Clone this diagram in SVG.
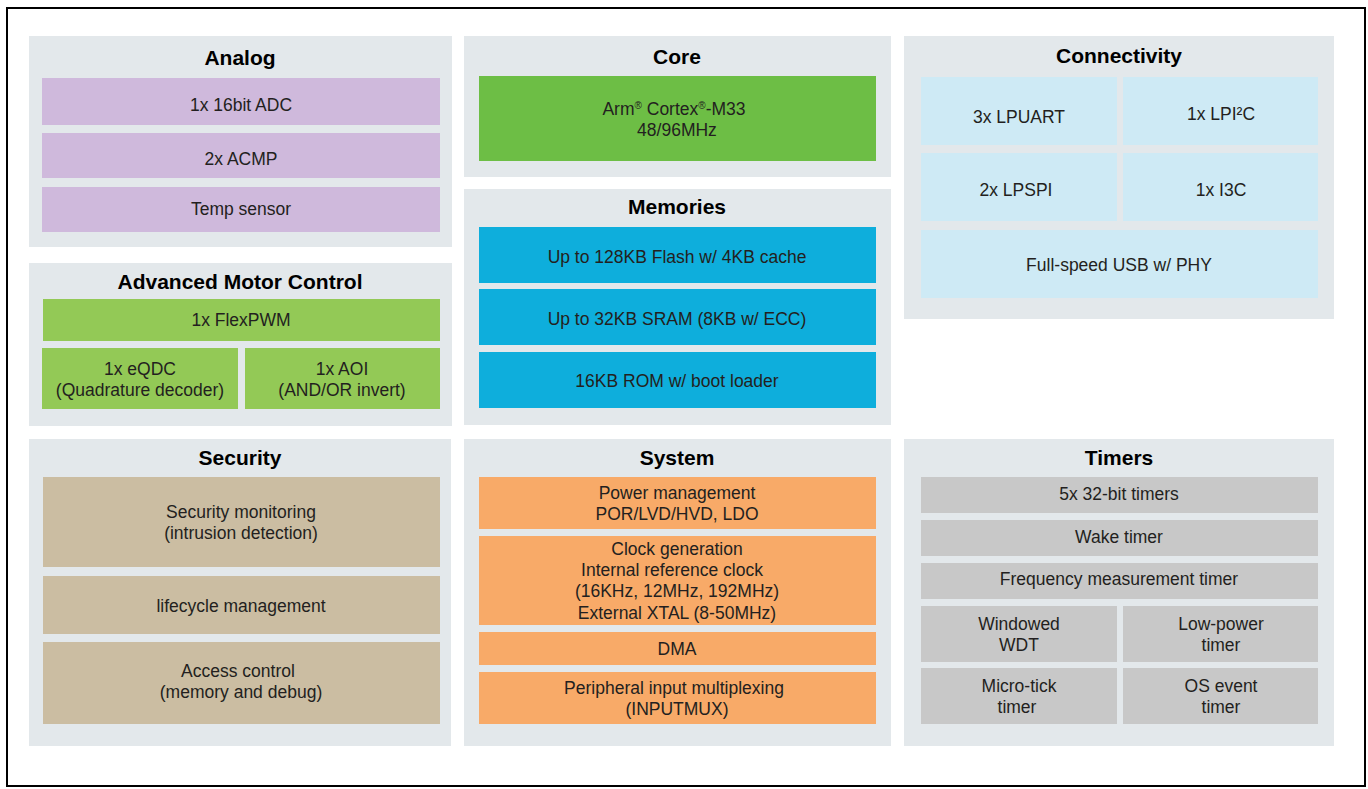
<svg xmlns="http://www.w3.org/2000/svg" width="1368" height="789" viewBox="0 0 1368 789">
<style>
.panel{fill:#e3e8eb}
.t{font-family:"Liberation Sans",Arial,sans-serif;font-size:21px;font-weight:bold;fill:#000;text-anchor:middle}
.l{font-family:"Liberation Sans",Arial,sans-serif;font-size:17.5px;fill:#231f20;text-anchor:middle}
.pu{fill:#cfb9dc}
.gc{fill:#6dbe45}
.gm{fill:#93c956}
.bl{fill:#0eaedc}
.lb{fill:#ceeaf5}
.tn{fill:#cbbda2}
.or{fill:#f8aa68}
.gr{fill:#c8c8c8}
.sup{font-size:10px}
</style>
<rect x="0" y="0" width="1368" height="789" fill="#fff"/>
<rect x="7" y="8" width="1358" height="778" fill="#fff" stroke="#000" stroke-width="2"/>

<g id="analog">
<rect class="panel" x="29" y="36" width="423" height="211"/>
<text class="t" x="240" y="65">Analog</text>
<rect class="pu" x="42" y="78" width="398" height="47"/>
<text class="l" x="241" y="111">1x 16bit ADC</text>
<rect class="pu" x="42" y="133" width="398" height="45"/>
<text class="l" x="241" y="165">2x ACMP</text>
<rect class="pu" x="42" y="187" width="398" height="45"/>
<text class="l" x="241" y="215">Temp sensor</text>
</g>

<g id="motor">
<rect class="panel" x="29" y="263" width="423" height="163"/>
<text class="t" x="240" y="289">Advanced Motor Control</text>
<rect class="gm" x="43" y="299" width="397" height="42"/>
<text class="l" x="241" y="326">1x FlexPWM</text>
<rect class="gm" x="42" y="348" width="196" height="61"/>
<text class="l" x="140" y="375">1x eQDC</text>
<text class="l" x="140" y="396">(Quadrature decoder)</text>
<rect class="gm" x="245" y="348" width="195" height="61"/>
<text class="l" x="342" y="375">1x AOI</text>
<text class="l" x="342" y="396">(AND/OR invert)</text>
</g>

<g id="security">
<rect class="panel" x="29" y="439" width="422" height="307"/>
<text class="t" x="240" y="465">Security</text>
<rect class="tn" x="43" y="477" width="397" height="90"/>
<text class="l" x="241" y="518">Security monitoring</text>
<text class="l" x="241" y="539">(intrusion detection)</text>
<rect class="tn" x="43" y="576" width="397" height="58"/>
<text class="l" x="241" y="612">lifecycle management</text>
<rect class="tn" x="43" y="642" width="397" height="82"/>
<text class="l" x="238" y="677">Access control</text>
<text class="l" x="241" y="698">(memory and debug)</text>
</g>

<g id="core">
<rect class="panel" x="464" y="36" width="427" height="141"/>
<text class="t" x="677" y="64">Core</text>
<rect class="gc" x="479" y="76" width="397" height="85"/>
<text class="l" x="674" y="115">Arm<tspan class="sup" dy="-6">®</tspan><tspan dy="6"> Cortex</tspan><tspan class="sup" dy="-6">®</tspan><tspan dy="6">-M33</tspan></text>
<text class="l" x="677" y="136">48/96MHz</text>
</g>

<g id="memories">
<rect class="panel" x="464" y="189" width="427" height="236"/>
<text class="t" x="677" y="214">Memories</text>
<rect class="bl" x="479" y="227" width="397" height="56"/>
<text class="l" x="677" y="263">Up to 128KB Flash w/ 4KB cache</text>
<rect class="bl" x="479" y="289" width="397" height="56"/>
<text class="l" x="677" y="325">Up to 32KB SRAM (8KB w/ ECC)</text>
<rect class="bl" x="479" y="352" width="397" height="56"/>
<text class="l" x="677" y="387">16KB ROM w/ boot loader</text>
</g>

<g id="system">
<rect class="panel" x="464" y="439" width="427" height="307"/>
<text class="t" x="677" y="465">System</text>
<rect class="or" x="479" y="477" width="397" height="52"/>
<text class="l" x="677" y="499">Power management</text>
<text class="l" x="677" y="520">POR/LVD/HVD, LDO</text>
<rect class="or" x="479" y="536" width="397" height="89"/>
<text class="l" x="677" y="555">Clock generation</text>
<text class="l" x="672" y="576">Internal reference clock</text>
<text class="l" x="677" y="597">(16KHz, 12MHz, 192MHz)</text>
<text class="l" x="677" y="619">External XTAL (8-50MHz)</text>
<rect class="or" x="479" y="632" width="397" height="33"/>
<text class="l" x="677" y="655">DMA</text>
<rect class="or" x="479" y="672" width="397" height="52"/>
<text class="l" x="674" y="694">Peripheral input multiplexing</text>
<text class="l" x="677" y="715">(INPUTMUX)</text>
</g>

<g id="connectivity">
<rect class="panel" x="904" y="36" width="430" height="283"/>
<text class="t" x="1119" y="63">Connectivity</text>
<rect class="lb" x="921" y="77" width="196" height="68"/>
<text class="l" x="1019" y="123">3x LPUART</text>
<rect class="lb" x="1123" y="77" width="195" height="68"/>
<text class="l" x="1221" y="120">1x LPI²C</text>
<rect class="lb" x="921" y="153" width="196" height="68"/>
<text class="l" x="1016" y="196">2x LPSPI</text>
<rect class="lb" x="1123" y="153" width="195" height="68"/>
<text class="l" x="1221" y="196">1x I3C</text>
<rect class="lb" x="921" y="230" width="397" height="68"/>
<text class="l" x="1119" y="271">Full-speed USB w/ PHY</text>
</g>

<g id="timers">
<rect class="panel" x="904" y="439" width="430" height="307"/>
<text class="t" x="1119" y="465">Timers</text>
<rect class="gr" x="921" y="477" width="397" height="36"/>
<text class="l" x="1119" y="500">5x 32-bit timers</text>
<rect class="gr" x="921" y="520" width="397" height="36"/>
<text class="l" x="1119" y="543">Wake timer</text>
<rect class="gr" x="921" y="563" width="397" height="36"/>
<text class="l" x="1119" y="585">Frequency measurement timer</text>
<rect class="gr" x="921" y="606" width="196" height="56"/>
<text class="l" x="1019" y="630">Windowed</text>
<text class="l" x="1019" y="651">WDT</text>
<rect class="gr" x="1123" y="606" width="195" height="56"/>
<text class="l" x="1221" y="630">Low-power</text>
<text class="l" x="1221" y="651">timer</text>
<rect class="gr" x="921" y="668" width="196" height="56"/>
<text class="l" x="1019" y="692">Micro-tick</text>
<text class="l" x="1017" y="713">timer</text>
<rect class="gr" x="1123" y="668" width="195" height="56"/>
<text class="l" x="1221" y="692">OS event</text>
<text class="l" x="1221" y="713">timer</text>
</g>

<g id="connectors"></g>
</svg>
